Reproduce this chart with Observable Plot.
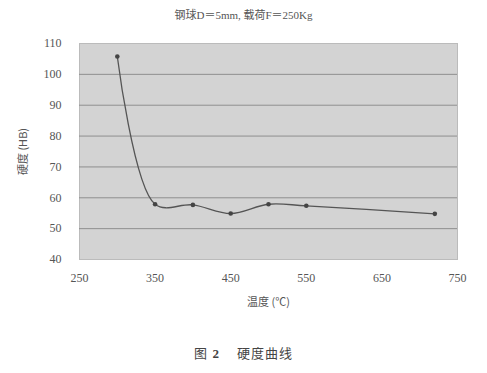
<!DOCTYPE html>
<html><head><meta charset="utf-8">
<script src="https://cdn.jsdelivr.net/npm/d3@7"></script>
<script src="https://cdn.jsdelivr.net/npm/@observablehq/plot@0.6"></script>
<style>
body{margin:0;background:#fff;}
#wrap{position:relative;width:487px;height:373px;overflow:hidden;font-family:"Liberation Serif","DejaVu Serif","Noto Sans CJK SC",serif;color:#555;}
#title{position:absolute;top:6px;left:0;width:487px;text-align:center;font-size:11px;color:#555;}
#chart{position:absolute;top:0;left:0;}
#cap{position:absolute;top:343px;left:0;width:487px;text-align:center;font-size:13px;color:#444;letter-spacing:1px;}
</style></head>
<body><div id="wrap"><div id="title">钢球D＝5mm, 载荷F＝250Kg</div><div id="chart"></div><div id="cap">图 <b>2</b>&nbsp;&nbsp;&nbsp; 硬度曲线</div></div>
<script>
const temps = [300, 350, 400, 450, 500, 550, 720];
const hardness = [105.8, 57.9, 57.7, 54.9, 57.9, 57.4, 54.8];
const xTicks = [250, 350, 450, 550, 650, 750];
const yTicks = [40, 50, 60, 70, 80, 90, 100, 110];
const data = temps.map((t, i) => ({t, h: hardness[i]}));
const chart = Plot.plot({
  width: 487, height: 320,
  marginTop: 43, marginBottom: 61, marginLeft: 79, marginRight: 30,
  style: {fontFamily: '"Liberation Serif","DejaVu Serif",serif', fontSize: "12px", color: "#555", background: "transparent"},
  x: {domain: [250, 750], ticks: xTicks, tickSize: 0, tickPadding: 14, label: "温度 (℃)", labelArrow: "none", labelAnchor: "center", labelOffset: 46},
  y: {domain: [40, 110], ticks: yTicks, tickSize: 0, tickPadding: 18, label: "硬度 (HB)", labelArrow: "none", labelAnchor: "center", labelOffset: 60},
  marks: [
    Plot.frame({fill: "#d3d3d3", stroke: "#bbb"}),
    Plot.ruleY(yTicks.slice(1, -1), {stroke: "#8f8f8f", strokeWidth: 1}),
    Plot.line(data, {x: "t", y: "h", curve: "catmull-rom", stroke: "#555", strokeWidth: 1.3}),
    Plot.dot(data, {x: "t", y: "h", r: 2.3, fill: "#444"})
  ]
});
document.getElementById("chart").appendChild(chart);
chart.querySelectorAll("[aria-label='x-axis label'] text, [aria-label='y-axis label'] text").forEach(t => {
  t.textContent = t.textContent.replace(/\s*[→↑←↓]\s*/g, "");
  t.style.fontFamily = '"Noto Sans CJK SC",sans-serif'; t.style.fontSize = "11px"; t.style.fill = "#555";
});
</script></body></html>
